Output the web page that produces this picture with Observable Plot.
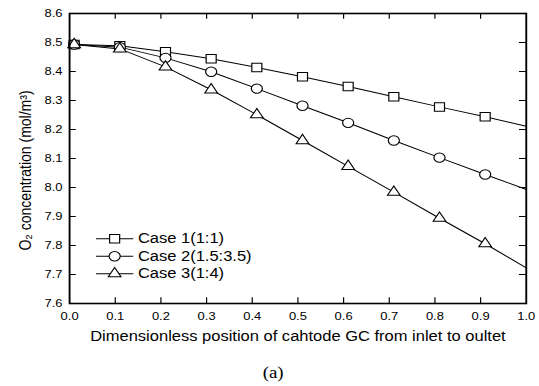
<!DOCTYPE html>
<html>
<head>
<meta charset="utf-8">
<script src="https://cdn.jsdelivr.net/npm/d3@7"></script>
<script src="https://cdn.jsdelivr.net/npm/@observablehq/plot@0.6"></script>
<style>
  body { margin: 0; background: #fff; }
  #chart svg { display: block; }
</style>
</head>
<body>
<div id="chart"></div>
<script>
// ---- data ----
const xPositions = [0.01, 0.11, 0.21, 0.31, 0.41, 0.51, 0.61, 0.71, 0.81, 0.91, 1.0];
const case1 = [8.493, 8.489, 8.468, 8.444, 8.414, 8.382, 8.348, 8.313, 8.278, 8.244, 8.211];
const case2 = [8.493, 8.484, 8.447, 8.399, 8.341, 8.282, 8.223, 8.162, 8.103, 8.045, 7.993];
const case3 = [8.493, 8.478, 8.416, 8.337, 8.251, 8.162, 8.073, 7.984, 7.894, 7.806, 7.723];
const seriesNames = ["Case 1(1:1)", "Case 2(1.5:3.5)", "Case 3(1:4)"];
const seriesSymbols = ["square", "circle", "triangle"];
const xTickValues = [0.0, 0.1, 0.2, 0.3, 0.4, 0.5, 0.6, 0.7, 0.8, 0.9, 1.0];
const yTickValues = [7.6, 7.7, 7.8, 7.9, 8.0, 8.1, 8.2, 8.3, 8.4, 8.5, 8.6];
const xLabel = "Dimensionless position of cahtode GC from inlet to oultet";
const yLabel = "O₂ concentration (mol/m³)";
const caption = "(a)";

// ---- layout ----
const W = 457, H = 386, SCREEN_W = 539;
const ML = 58.5, MR = 11.3, MT = 13, MB = 83;
const frameW = W - ML - MR, frameH = H - MT - MB, TICK = 5.7;
const symbolR = [4.8, 4.7, 4.0];
const seriesValues = [case1, case2, case3];
const rows = seriesNames.flatMap((name, i) =>
  xPositions.map((x, j) => ({series: name, x, y: seriesValues[i][j]})));
const innerX = xTickValues.filter(v => v > 0.05 && v < 0.95);
const innerY = yTickValues.filter(v => v > 7.65 && v < 8.55);

const hline = {draw(ctx) { ctx.moveTo(-15.75, 0); ctx.lineTo(15.75, 0); }};

const seriesMarks = seriesNames.flatMap((name, i) => {
  const data = rows.filter(d => d.series === name);
  return [
    Plot.line(data, {x: "x", y: "y", stroke: "black", strokeWidth: 1}),
    Plot.dot(data.filter(d => d.x < 0.95), {x: "x", y: "y", symbol: seriesSymbols[i], r: symbolR[i],
      stroke: "black", fill: "white", strokeWidth: 1})
  ];
});

const legendMarks = seriesNames.flatMap((name, i) => {
  const dy = 225.3 + i * 17.45;
  return [
    Plot.dot([name], {frameAnchor: "top-left", dx: 38.2, dy, symbol: hline, stroke: "black", fill: "none", strokeWidth: 1}),
    Plot.dot([name], {frameAnchor: "top-left", dx: 38.2, dy, symbol: seriesSymbols[i], r: symbolR[i], stroke: "black", fill: "white", strokeWidth: 1}),
    Plot.text([name], {frameAnchor: "top-left", dx: 57.9, dy, text: d => d, textAnchor: "start", lineAnchor: "middle", fontSize: 14, fill: "black"})
  ];
});

const chart = Plot.plot({
  width: W,
  height: H,
  marginLeft: ML,
  marginRight: MR,
  marginTop: MT,
  marginBottom: MB,
  style: {fontFamily: "'Liberation Sans', Arial, sans-serif", fontSize: "11px", color: "black", background: "white"},
  x: {domain: [0, 1]},
  y: {domain: [7.6, 8.6]},
  marks: [
    Plot.axisX(xTickValues, {anchor: "bottom", tickSize: 0, tickPadding: 9, tickFormat: d3.format(".1f"), fontSize: 11, label: null}),
    Plot.axisY(yTickValues, {anchor: "left", tickSize: 0, tickPadding: 6, tickFormat: d3.format(".1f"), fontSize: 11, label: null}),
    // inward ticks on all four sides
    Plot.tickX(innerX, {x: d => d, stroke: "black", strokeWidth: 1, insetTop: frameH - TICK}),
    Plot.tickX(innerX, {x: d => d, stroke: "black", strokeWidth: 1, insetBottom: frameH - TICK}),
    Plot.tickY(innerY, {y: d => d, stroke: "black", strokeWidth: 1, insetRight: frameW - TICK}),
    Plot.tickY(innerY, {y: d => d, stroke: "black", strokeWidth: 1, insetLeft: frameW - TICK}),
    ...seriesMarks,
    ...legendMarks,
    Plot.frame({stroke: "black", strokeWidth: 1.6}),
    Plot.text([xLabel], {frameAnchor: "bottom", dy: 32.7, text: d => d, textAnchor: "middle", lineAnchor: "middle", fontSize: 14, fill: "black"}),
    Plot.text([yLabel], {frameAnchor: "left", dx: -37.3, dy: 12, rotate: -90, text: d => d, textAnchor: "middle", lineAnchor: "middle", fontSize: 14, fill: "black"}),
    Plot.text([caption], {frameAnchor: "bottom", dx: -21, dy: 69.5, text: d => d, textAnchor: "middle", lineAnchor: "middle", fontSize: 16, fill: "black",
      fontFamily: "'Liberation Serif', 'Times New Roman', serif"})
  ]
});

// the reference is stretched horizontally; reproduce that by widening the viewBox
chart.setAttribute("width", SCREEN_W);
chart.setAttribute("height", H);
chart.setAttribute("preserveAspectRatio", "none");
chart.style.width = SCREEN_W + "px";
chart.style.height = H + "px";
chart.style.maxWidth = "none";
document.getElementById("chart").appendChild(chart);
</script>
</body>
</html>
